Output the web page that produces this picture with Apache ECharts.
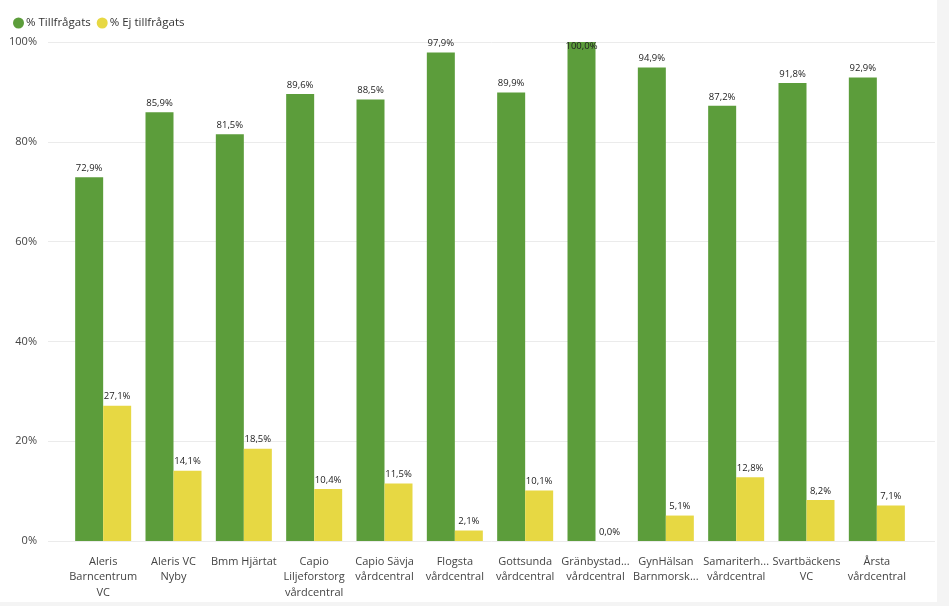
<!DOCTYPE html>
<html><head><meta charset="utf-8">
<script src="https://cdn.jsdelivr.net/npm/echarts@6/dist/echarts.min.js"></script>
<style>html,body{margin:0;padding:0;background:#f4f4f4}#c{width:949px;height:606px}</style>
</head><body><div id="c"></div>
<script>
const categories = ["Aleris\nBarncentrum\nVC","Aleris VC\nNyby","Bmm Hjärtat","Capio\nLiljeforstorg\nvårdcentral","Capio Sävja\nvårdcentral","Flogsta\nvårdcentral","Gottsunda\nvårdcentral","Gränbystad...\nvårdcentral","GynHälsan\nBarnmorsk...","Samariterh...\nvårdcentral","Svartbäckens\nVC","Årsta\nvårdcentral"];
const tillfragats = [72.9,85.9,81.5,89.6,88.5,97.9,89.9,100.0,94.9,87.2,91.8,92.9];
const ejTillfragats = [27.1,14.1,18.5,10.4,11.5,2.1,10.1,0.0,5.1,12.8,8.2,7.1];
const yTicks = [0,20,40,60,80,100];

const font = '"Open Sans", "Noto Sans", sans-serif';
const chart = echarts.init(document.getElementById('c'), null, {renderer:'canvas'});
const fmt = v => v.toFixed(1).replace('.', ',') + '%';
const lbl = {show:true, position:'top', distance:4, color:'#222', fontSize:9.5, fontFamily:font, formatter:p=>fmt(p.value)};
const withTopLabel = arr => arr.map(v => v >= 100 ? {value:v, label:{distance:-9}} : v);
chart.setOption({
  animation:false,
  backgroundColor:'transparent',
  graphic:[{type:'rect', shape:{x:0,y:0,width:937,height:602}, style:{fill:'#ffffff'}, z:-10}],
  legend:{left:8, top:12, itemWidth:11, itemHeight:11, itemGap:6, icon:'circle',
    textStyle:{fontSize:11.5, color:'#333', fontFamily:font, padding:[0,0,0,-3]},
    data:['% Tillfrågats','% Ej tillfrågats']},
  grid:[
    {left:48, right:14, top:42, bottom:65},
    {left:68, right:37, top:42, bottom:65}
  ],
  xAxis:[
    {type:'category', gridIndex:0, data:[''], show:false},
    {type:'category', gridIndex:1, data:categories,
      axisLine:{show:false}, axisTick:{show:false},
      axisLabel:{interval:0, fontSize:11, color:'#444', fontFamily:font, lineHeight:15.5, margin:13}}
  ],
  yAxis:[
    {type:'value', gridIndex:0, min:0, max:100, interval:20,
      axisLabel:{formatter:v=>yTicks.includes(v)?v+'%':'', fontSize:11, color:'#444', fontFamily:font, margin:11},
      axisLine:{show:false}, axisTick:{show:false},
      splitLine:{lineStyle:{color:'#ebebeb', width:1}}},
    {type:'value', gridIndex:1, min:0, max:100, interval:20, show:false, splitLine:{show:false}}
  ],
  series:[
    {name:'% Tillfrågats', type:'bar', xAxisIndex:1, yAxisIndex:1, data:withTopLabel(tillfragats),
      barWidth:28, barGap:'0%', itemStyle:{color:'#5c9d3b'}, label:lbl},
    {name:'% Ej tillfrågats', type:'bar', xAxisIndex:1, yAxisIndex:1, data:ejTillfragats,
      barWidth:28, barGap:'0%', itemStyle:{color:'#e7d843'}, label:lbl}
  ]
});
</script></body></html>
